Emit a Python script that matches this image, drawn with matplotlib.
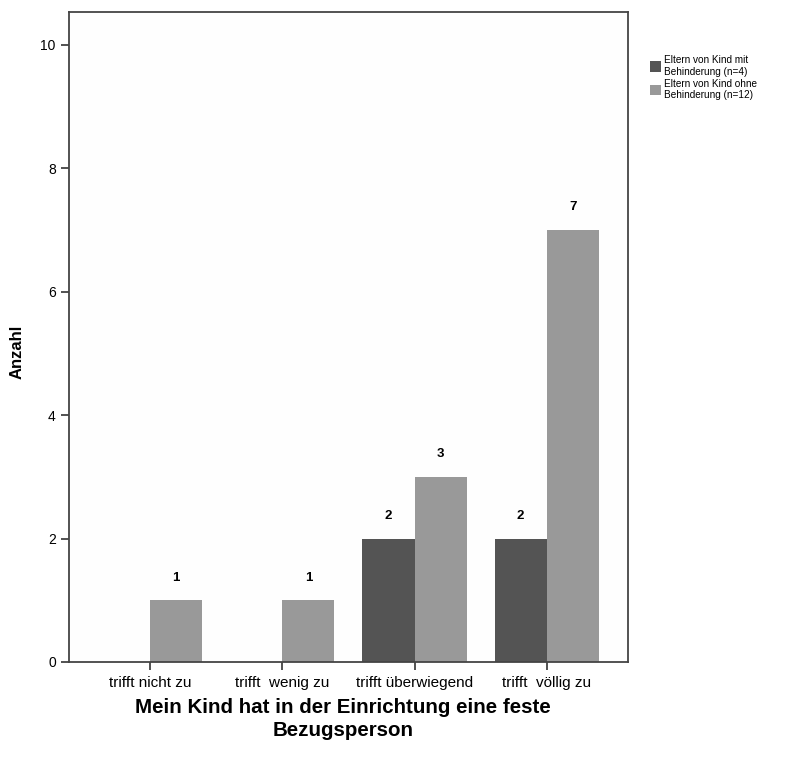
import numpy as np
import matplotlib.pyplot as plt

plt.rcParams['font.family'] = ['Liberation Sans', 'DejaVu Sans']

categories = ['trifft nicht zu', 'trifft  wenig zu', 'trifft überwiegend', 'trifft  völlig zu']
mit_behinderung = [0, 0, 2, 2]
ohne_behinderung = [1, 1, 3, 7]
series_names = ['Eltern von Kind mit\nBehinderung (n=4)', 'Eltern von Kind ohne\nBehinderung (n=12)']

dark = '#545454'
light = '#999999'

fig = plt.figure(figsize=(8.01, 7.67), dpi=100)
ax = fig.add_axes([0.0861, 0.1369, 0.6979, 0.8475])
ax.set_facecolor('#fefefe')

x = np.arange(len(categories))
w = 0.394
b1 = ax.bar(x - w / 2, mit_behinderung, w, color=dark, label=series_names[0])
b2 = ax.bar(x + w / 2, ohne_behinderung, w, color=light, label=series_names[1])

# value labels (skip zeros)
for bars, vals in [(b1, mit_behinderung), (b2, ohne_behinderung)]:
    for r, v in zip(bars, vals):
        if v > 0:
            ax.text(r.get_x() + r.get_width() / 2, v + 0.27, str(v),
                    ha='center', va='bottom', fontsize=9.5, fontweight='bold')

ax.set_xlim(-0.615, 3.615)
ax.set_ylim(0, 10.53)
ax.set_yticks([0, 2, 4, 6, 8, 10])
ax.set_xticks(x)
ax.set_xticklabels(categories, fontsize=11)
ax.tick_params(axis='y', labelsize=10, length=6, width=1.2, color='#333333')
ax.tick_params(axis='x', length=6, width=1.2, color='#333333', pad=4)
for s in ax.spines.values():
    s.set_color('#444444')
    s.set_linewidth(1.3)

ax.set_ylabel('Anzahl', fontsize=12, fontweight='bold')
ax.yaxis.set_label_coords(-0.08, 0.477)
fig.text(0.428, 1 - 698 / 767, 'Mein Kind hat in der Einrichtung eine feste\nBezugsperson',
         ha='center', va='top', fontsize=14.8, fontweight='bold', linespacing=1.25)

leg = ax.legend(loc='upper left', bbox_to_anchor=(1.033, 0.94), frameon=False,
                fontsize=7.2, handlelength=1.1, handleheight=1.2, handletextpad=0.3,
                labelspacing=0.2, borderaxespad=0)

fig.savefig('out.png', dpi=100, facecolor='white')
